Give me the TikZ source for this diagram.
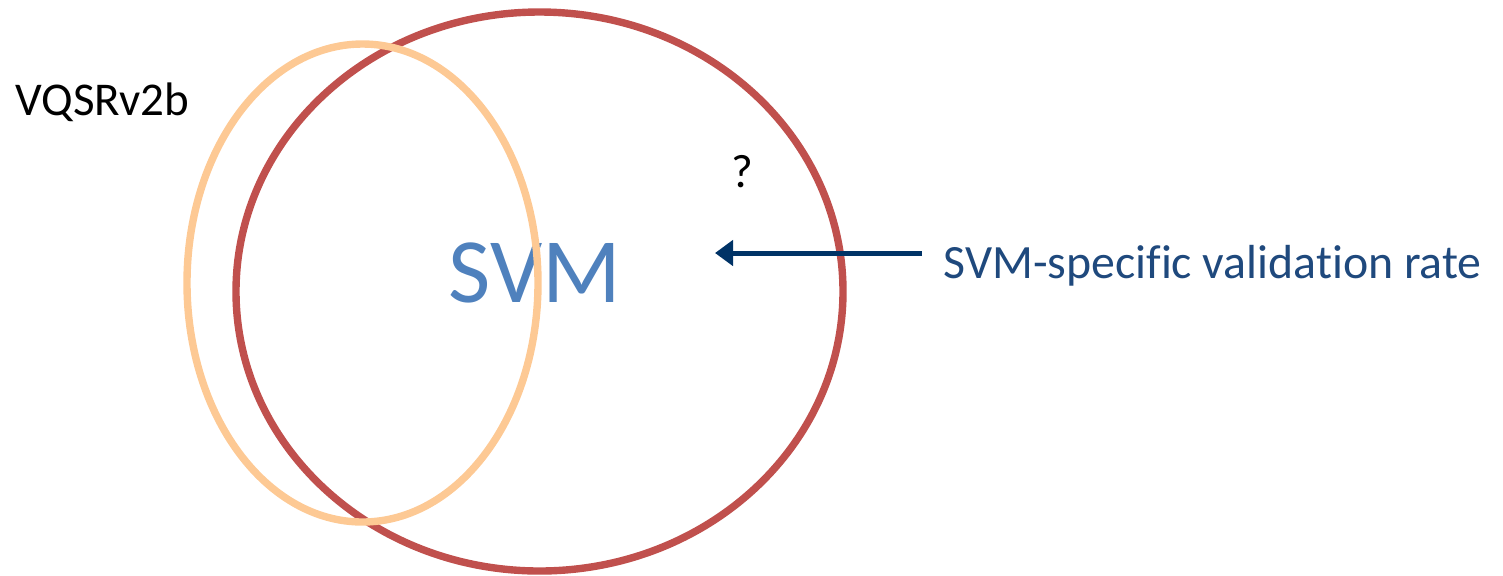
\documentclass[tikz,border=0pt]{standalone}
\usepackage{fontspec}
\setmainfont[Ligatures=NoCommon]{Carlito}
\usepackage{xcolor}
\usetikzlibrary{arrows.meta}

\definecolor{setred}{HTML}{C0504D}
\definecolor{setorange}{HTML}{FDC994}
\definecolor{svmblue}{HTML}{4F81BD}
\definecolor{arrownavy}{HTML}{003366}
\definecolor{labelblue}{HTML}{1F497D}

\begin{document}
\begin{tikzpicture}[x=0.5pt,y=-0.5pt,
    ring/.style={line width=3.7pt},
    txt/.style={inner sep=0pt,anchor=base west,font=\fontsize{23.5}{28}\selectfont}]
        \useasboundingbox (0,0) rectangle (1503,575);

        % the two sets
        \draw[ring,setred] (539.5,291.5) ellipse [x radius=303.5, y radius=279.5];
        \node[inner sep=0pt,anchor=base,text=svmblue,font=\fontsize{46}{55}\selectfont] (svm) at (535,302) {SVM};
        \draw[ring,setorange] (362.5,283) ellipse [x radius=175.5, y radius=239];

        \node[txt] (vqsr) at (15,115) {VQSRv2b};
        \node[txt,anchor=base] (unknown) at (742,187) {?};
        \node[txt,text=labelblue,font=\fontsize{23.9}{28}\selectfont] (rate) at (943,278) {SVM-specific validation rate};

        % pointer into the SVM set
        \coordinate (tail) at (922,253);
        \coordinate (tip) at (715,253);
        \draw[-{Triangle[length=9pt,width=12.5pt]},line width=2.5pt,arrownavy] (tail) -- (tip);
    \end{tikzpicture}
\end{document}
